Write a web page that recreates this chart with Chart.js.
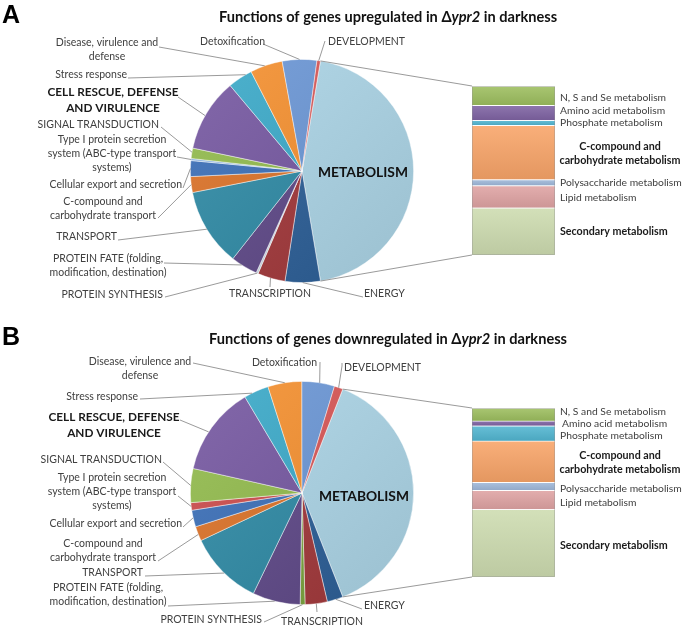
<!DOCTYPE html>
<html>
<head>
<meta charset="utf-8">
<script src="https://cdn.jsdelivr.net/npm/chart.js@4.4.1/dist/chart.umd.min.js"></script>
<style>
  body{ margin:0; background:#fff; }
  #wrap{ position:relative; width:685px; height:627px; overflow:hidden; }
  .panel{ position:absolute; left:0; width:685px; height:313px; }
  .panel canvas{ position:absolute; left:0; top:0; }
</style>
</head>
<body>
<div id="wrap">
  <div class="panel" style="top:0px">
    <canvas id="pieA" width="685" height="313"></canvas>
    <canvas id="barA" width="685" height="313"></canvas>
  </div>
  <div class="panel" style="top:322px">
    <canvas id="pieB" width="685" height="313"></canvas>
    <canvas id="barB" width="685" height="313"></canvas>
  </div>
</div>
<script>
/********************
 * Data (percent of regulated genes)
 ********************/
const pieLabels = [
  "METABOLISM", "ENERGY", "TRANSCRIPTION", "PROTEIN SYNTHESIS",
  "PROTEIN FATE (folding, modification, destination)", "TRANSPORT",
  "C-compound and carbohydrate transport", "Cellular export and secretion",
  "Type I protein secretion system (ABC-type transport systems)",
  "SIGNAL TRANSDUCTION", "CELL RESCUE, DEFENSE AND VIRULENCE",
  "Stress response", "Disease, virulence and defense", "Detoxification", "DEVELOPMENT"
];
const upPie   = [44.8, 5.1, 4.0, 0.3, 3.9, 11.3, 2.3, 2.3, 0.3, 1.5, 10.6, 3.6, 4.7, 5.0, 0.5];
const downPie = [38.0, 2.3, 3.2, 0.7, 6.9, 10.8, 2.1, 2.4, 1.1, 4.9, 12.9, 3.6, 4.9, 4.7, 1.25];

// metabolism split (bottom -> top of the stacked bar)
const barLabels = [
  "Secondary metabolism", "Lipid metabolism", "Polysaccharide metabolism",
  "C-compound and carbohydrate metabolism", "Phosphate metabolism",
  "Amino acid metabolism", "N, S and Se metabolism"
];
const upBar   = [12.5, 5.9, 1.6, 14.4, 1.3, 4.0, 5.1];
const downBar = [15.2, 4.3, 1.8, 9.3, 3.4, 1.1, 2.9];

/********************
 * Styles
 ********************/
const colorsA = ["#acd5e7","#2b5e97","#a2373a","#c9d6e3","#5e4888","#2e8aa5","#dc7227","#3a6fb8",
                 "#8db4e2","#92bb4c","#7557a1","#3aa9c9","#f5902f","#6b97d6","#d85555"];
const colorsB = ["#acd5e7","#2b5e97","#a2373a","#7aa33c","#5e4888","#2e8aa5","#dc7227","#3a6fb8",
                 "#cc4b4b","#92bb4c","#7557a1","#3aa9c9","#f5902f","#6b97d6","#d85555"];
const barColors = ["#cddcb0","#dfa3a3","#9fb8da","#f8a468","#52b6d1","#7f63a3","#9dbe5f"];

const FONT = "Lato, 'Noto Sans', sans-serif";
const TXT = "#404040";

// label layout: i = slice index, f = where along the slice the leader ends
const layoutA = [
  { i:12, lines:["Disease, virulence and","defense"], x:107, y:43, align:"center", f:0.45, path:[[159,47]] },
  { i:13, lines:["Detoxification"], x:200, y:42, align:"left", f:0.5, path:[[263,44]] },
  { i:14, lines:["DEVELOPMENT"], x:328, y:42, align:"left", f:0.5, path:[[325,41]] },
  { i:11, lines:["Stress response"], x:127, y:75, align:"right", f:0.75, path:[[128,78]] },
  { i:10, lines:["CELL RESCUE, DEFENSE","AND VIRULENCE"], x:113, y:92, align:"center", bold:true, size:11.8, lh:16, f:0.47, path:[[178,97]] },
  { i:9,  lines:["SIGNAL TRANSDUCTION"], x:159, y:125, align:"right", f:0.6, path:[[161,127]] },
  { i:8,  lines:["Type I protein secretion","system (ABC-type transport","systems)"], x:112, y:140, align:"center", f:0.5, path:[[177,157]] },
  { i:7,  lines:["Cellular export and secretion"], x:182, y:185, align:"right", f:0.5, path:[[183,188]] },
  { i:6,  lines:["C-compound and","carbohydrate transport"], x:103, y:202, align:"center", f:0.5, path:[[158,218]] },
  { i:5,  lines:["TRANSPORT"], x:117, y:237, align:"right", f:0.5, path:[[118,240]] },
  { i:4,  lines:["PROTEIN FATE (folding,","modification, destination)"], x:108, y:259, align:"center", f:0.6, path:[[164,263]] },
  { i:3,  lines:["PROTEIN SYNTHESIS"], x:163, y:295, align:"right", f:0.5, path:[[165,297]] },
  { i:2,  lines:["TRANSCRIPTION"], x:270, y:294, align:"center", f:0.53, path:[[270,287]] },
  { i:1,  lines:["ENERGY"], x:364, y:294, align:"left", f:0.5, path:[[363,297]] },
  { i:0,  lines:["METABOLISM"], x:363, y:173, align:"center", bold:true, size:13.8, color:"#111" }
];
const layoutB = [
  { i:12, lines:["Disease, virulence and","defense"], x:140, y:40, align:"center", f:0.5, path:[[193,41]] },
  { i:13, lines:["Detoxification"], x:317, y:41, align:"right", f:0.54, path:[[320,40]] },
  { i:14, lines:["DEVELOPMENT"], x:344, y:46, align:"left", f:0.5, path:[[342,41],[342,44]] },
  { i:11, lines:["Stress response"], x:138, y:75, align:"right", f:0.32, path:[[140,77]] },
  { i:10, lines:["CELL RESCUE, DEFENSE","AND VIRULENCE"], x:114, y:95, align:"center", bold:true, size:11.8, lh:16, f:0.44, path:[[180,98]] },
  { i:9,  lines:["SIGNAL TRANSDUCTION"], x:162, y:138, align:"right", f:0.5, path:[[163,140]] },
  { i:8,  lines:["Type I protein secretion","system (ABC-type transport","systems)"], x:112, y:156, align:"center", f:0.5, path:[[178,174]] },
  { i:7,  lines:["Cellular export and secretion"], x:182, y:202, align:"right", f:0.55, path:[[183,205]] },
  { i:6,  lines:["C-compound and","carbohydrate transport"], x:103, y:222, align:"center", f:0.45, path:[[158,239]] },
  { i:5,  lines:["TRANSPORT"], x:143, y:251, align:"right", f:0.47, path:[[145,254]] },
  { i:4,  lines:["PROTEIN FATE (folding,","modification, destination)"], x:108, y:266, align:"center", f:0.53, path:[[168,284]] },
  { i:3,  lines:["PROTEIN SYNTHESIS"], x:262, y:298, align:"right", f:0.5, path:[[264,300]] },
  { i:2,  lines:["TRANSCRIPTION"], x:322, y:300, align:"center", f:0.5, path:[[317,290]] },
  { i:1,  lines:["ENERGY"], x:364, y:284, align:"left", f:0.45, path:[[362,287]] },
  { i:0,  lines:["METABOLISM"], x:364, y:175, align:"center", bold:true, size:13.8, color:"#111" }
];
const barLayoutA = [
  { lines:["N, S and Se metabolism"], x:560, y:98 },
  { lines:["Amino acid metabolism"], x:560, y:111 },
  { lines:["Phosphate metabolism"], x:560, y:123 },
  { lines:["C-compound and","carbohydrate metabolism"], x:620, y:147, align:"center", bold:true },
  { lines:["Polysaccharide metabolism"], x:560, y:183 },
  { lines:["Lipid metabolism"], x:560, y:198 },
  { lines:["Secondary metabolism"], x:560, y:232, bold:true }
];
const barLayoutB = [
  { lines:["N, S and Se metabolism"], x:560, y:90 },
  { lines:["Amino acid metabolism"], x:562, y:102 },
  { lines:["Phosphate metabolism"], x:560, y:114 },
  { lines:["C-compound and","carbohydrate metabolism"], x:620, y:134, align:"center", bold:true },
  { lines:["Polysaccharide metabolism"], x:560, y:167 },
  { lines:["Lipid metabolism"], x:560, y:181 },
  { lines:["Secondary metabolism"], x:560, y:224, bold:true }
];

/********************
 * Helpers
 ********************/
function shade(hex, amt){
  const n = parseInt(hex.slice(1), 16);
  let r = (n >> 16) & 255, g = (n >> 8) & 255, b = n & 255;
  const f = v => Math.max(0, Math.min(255, Math.round(amt >= 0 ? v + (255 - v) * amt : v * (1 + amt))));
  return `rgb(${f(r)},${f(g)},${f(b)})`;
}

function pieFill(colors){
  return (c) => {
    const base = colors[c.dataIndex];
    const area = c.chart.chartArea;
    if(!area) return base;
    const g = c.chart.ctx.createLinearGradient(area.left, area.top, area.right, area.bottom);
    g.addColorStop(0, shade(base, 0.1));
    g.addColorStop(1, shade(base, -0.1));
    return g;
  };
}

function barFill(values, k){
  return (c) => {
    const base = barColors[k];
    const ys = c.chart.scales.y;
    if(!ys || !c.chart.chartArea) return base;
    const lo = values.slice(0, k).reduce((s, v) => s + v, 0);
    const hi = lo + values[k];
    const g = c.chart.ctx.createLinearGradient(0, ys.getPixelForValue(hi), 0, ys.getPixelForValue(lo));
    g.addColorStop(0, shade(base, 0.12));
    g.addColorStop(1, shade(base, -0.08));
    return g;
  };
}

function drawTextBlock(ctx, item){
  const size = item.size || 10.5;
  const lh = item.lh || 14;
  ctx.font = `${item.bold ? "bold " : ""}${size}px ${FONT}`;
  ctx.fillStyle = item.color || (item.bold ? "#1a1a1a" : TXT);
  ctx.textAlign = item.align || "left";
  ctx.textBaseline = "middle";
  item.lines.forEach((t, k) => ctx.fillText(t, item.x, item.y + k * lh));
}

function drawTitle(ctx, parts, cx, y){
  ctx.textBaseline = "middle";
  ctx.textAlign = "left";
  const font = p => `${p.it ? "italic " : ""}bold 14.6px ${FONT}`;
  let w = 0;
  parts.forEach(p => { ctx.font = font(p); w += ctx.measureText(p.t).width; });
  let x = cx - w / 2;
  ctx.fillStyle = "#111";
  parts.forEach(p => {
    ctx.font = font(p);
    ctx.fillText(p.t, x, y);
    x += ctx.measureText(p.t).width;
  });
}

function labelPlugin(layout, letter, titleParts){
  return {
    id: "pieLabels",
    afterDraw(chart){
      const ctx = chart.ctx;
      const arcs = chart.getDatasetMeta(0).data;
      ctx.save();
      // leader lines
      ctx.strokeStyle = "#808080";
      ctx.lineWidth = 0.8;
      layout.forEach(l => {
        if(!l.path) return;
        const p = arcs[l.i].getProps(["x","y","startAngle","endAngle","outerRadius"], true);
        const ang = p.startAngle + l.f * (p.endAngle - p.startAngle);
        const ex = p.x + Math.cos(ang) * p.outerRadius;
        const ey = p.y + Math.sin(ang) * p.outerRadius;
        ctx.beginPath();
        ctx.moveTo(l.path[0][0], l.path[0][1]);
        l.path.slice(1).forEach(q => ctx.lineTo(q[0], q[1]));
        ctx.lineTo(ex, ey);
        ctx.stroke();
      });
      layout.forEach(l => drawTextBlock(ctx, l));
      // panel letter + title
      ctx.font = `bold 25px 'Liberation Sans', Arial, sans-serif`;
      ctx.fillStyle = "#000";
      ctx.textAlign = "left";
      ctx.textBaseline = "middle";
      ctx.fillText(letter, 2, 16);
      drawTitle(ctx, titleParts, 388, 17);
      ctx.restore();
    }
  };
}

function connectorPlugin(getPie, layout){
  return {
    id: "barConnect",
    afterDraw(chart){
      const ctx = chart.ctx;
      const pie = getPie();
      const met = pie.getDatasetMeta(0).data[0].getProps(["x","y","startAngle","endAngle","outerRadius"], true);
      const ys = chart.scales.y;
      const { left, right } = chart.chartArea;
      const top = ys.getPixelForValue(ys.max);
      const bottom = ys.getPixelForValue(0);
      ctx.save();
      ctx.strokeStyle = "#808080";
      ctx.lineWidth = 0.8;
      ctx.beginPath();
      ctx.moveTo(met.x + Math.cos(met.startAngle) * met.outerRadius, met.y + Math.sin(met.startAngle) * met.outerRadius);
      ctx.lineTo(left, top);
      ctx.moveTo(met.x + Math.cos(met.endAngle) * met.outerRadius, met.y + Math.sin(met.endAngle) * met.outerRadius);
      ctx.lineTo(left, bottom);
      ctx.stroke();
      ctx.strokeStyle = "rgba(150,150,150,0.5)";
      ctx.strokeRect(left + 0.5, top + 0.5, right - left - 1, bottom - top - 1);
      layout.forEach(l => drawTextBlock(ctx, Object.assign({ size: l.bold ? 10.7 : 10.3, lh:14 }, l)));
      ctx.restore();
    }
  };
}

/********************
 * Charts
 ********************/
function makePie(id, values, colors, layout, letter, titleParts){
  const total = values.reduce((s, v) => s + v, 0);
  // Excel bar-of-pie: the split slice is centred on 3 o'clock
  const rotation = 90 - (values[0] / total) * 180;
  return new Chart(document.getElementById(id), {
    type: "pie",
    data: {
      labels: pieLabels,
      datasets: [{
        data: values,
        backgroundColor: pieFill(colors),
        borderColor: "rgba(255,255,255,0.55)",
        borderWidth: 0.8
      }]
    },
    options: {
      responsive: false,
      animation: false,
      rotation,
      layout: { padding: { left: 190, right: 271, top: 59, bottom: 30 } },
      plugins: { legend: { display: false }, tooltip: { enabled: false } }
    },
    plugins: [labelPlugin(layout, letter, titleParts)]
  });
}

function makeBar(id, values, getPie, layout){
  const total = values.reduce((s, v) => s + v, 0);
  return new Chart(document.getElementById(id), {
    type: "bar",
    data: {
      labels: [""],
      datasets: values.map((v, k) => ({
        label: barLabels[k],
        data: [v],
        backgroundColor: barFill(values, k),
        borderColor: "rgba(255,255,255,0.85)",
        borderWidth: { top: 1, bottom: 0, left: 0, right: 0 },
        borderSkipped: false,
        barPercentage: 1,
        categoryPercentage: 1
      }))
    },
    options: {
      responsive: false,
      animation: false,
      layout: { padding: { left: 472, right: 130, top: 86, bottom: 58 } },
      scales: {
        x: { stacked: true, display: false },
        y: { stacked: true, display: false, min: 0, max: total }
      },
      plugins: { legend: { display: false }, tooltip: { enabled: false } }
    },
    plugins: [connectorPlugin(getPie, layout)]
  });
}

const titleA = [{ t:"Functions of genes upregulated in \u0394" }, { t:"ypr2", it:true }, { t:" in darkness" }];
const titleB = [{ t:"Functions of genes downregulated in \u0394" }, { t:"ypr2", it:true }, { t:" in darkness" }];

const pieA = makePie("pieA", upPie, colorsA, layoutA, "A", titleA);
const pieB = makePie("pieB", downPie, colorsB, layoutB, "B", titleB);
makeBar("barA", upBar, () => pieA, barLayoutA);
makeBar("barB", downBar, () => pieB, barLayoutB);
</script>
</body>
</html>
